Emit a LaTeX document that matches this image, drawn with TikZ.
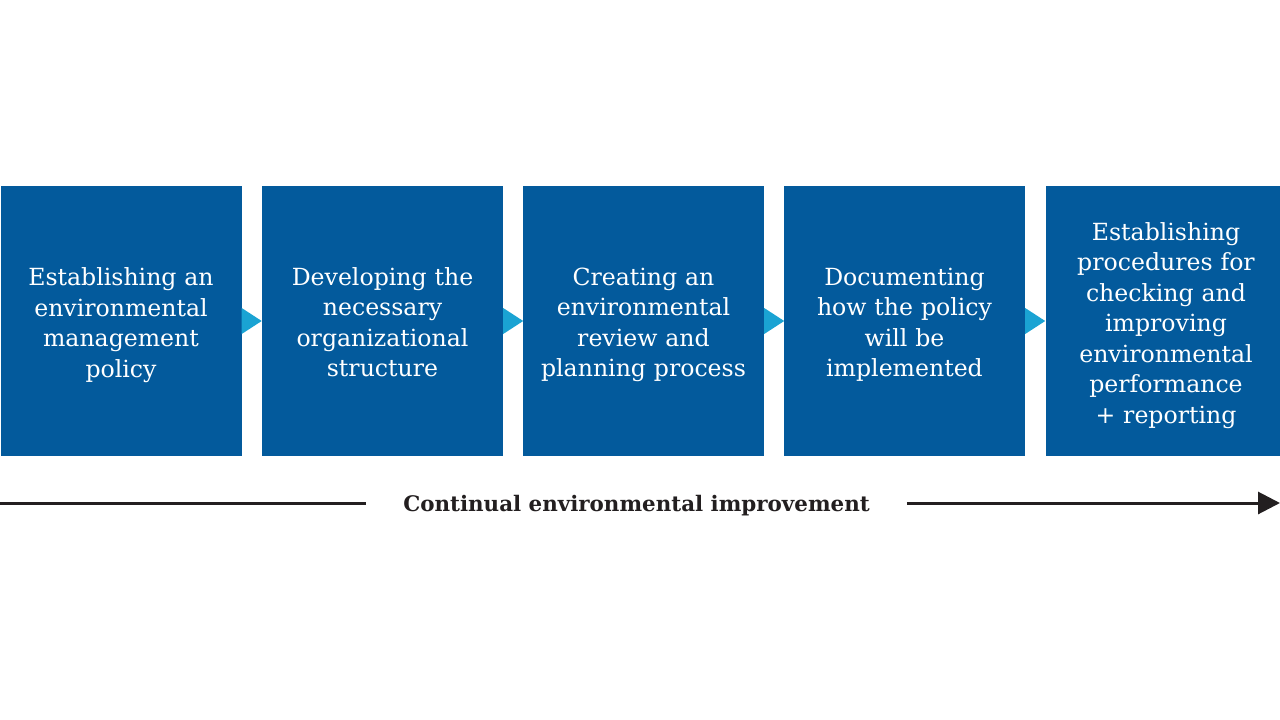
\documentclass[tikz,border=0pt]{standalone}
\usepackage{fontspec}
\setmainfont{DejaVu Serif}
\usetikzlibrary{arrows.meta}
\definecolor{boxblue}{HTML}{035A9C}
\definecolor{tricyan}{HTML}{1AA3D3}
\definecolor{arrowdark}{HTML}{231F20}
\tikzset{
  stepbox/.style={fill=boxblue, draw=none, minimum width=241pt, minimum height=270pt,
    inner sep=0pt},
  steptext/.style={inner sep=0pt, text=white, align=center, text width=236pt,
    font=\fontsize{23.6}{30.5}\selectfont},
  pointer/.style={fill=tricyan, draw=none},
  flowline/.style={draw=arrowdark, line width=3pt},
  flowlabel/.style={fill=white, inner xsep=37pt, text=arrowdark,
    font=\fontsize{21.4}{24}\selectfont\bfseries}
}
\begin{document}
\begin{tikzpicture}[x=1pt,y=-1pt]
\useasboundingbox (0,0) rectangle (1280,720);
\clip (0,0) rectangle (1280,720);
\node[stepbox] (b1) at (121,321) {};
\node[stepbox] (b2) at (382.5,321) {};
\node[stepbox] (b3) at (643.5,321) {};
\node[stepbox] (b4) at (904.5,321) {};
\node[stepbox] (b5) at (1166,321) {};
\node[steptext] (t1) at ([yshift=-4pt]b1.center) {Establishing an\\environmental\\management\\policy};
\node[steptext] (t2) at ([yshift=-1pt]b2.center) {Developing the\\necessary\\organizational\\structure};
\node[steptext] (t3) at ([yshift=-4pt]b3.center) {Creating an\\environmental\\review and\\planning process};
\node[steptext] (t4) at ([yshift=-4pt]b4.center) {Documenting\\how the policy\\will be\\implemented};
\node[steptext] (t5) at ([yshift=-4.5pt]b5.center) {Establishing\\procedures for\\checking and\\improving\\environmental\\performance\\+ reporting};
\foreach \n in {1,2,3,4}{
  \fill[pointer] (b\n.east) ++(0,-13) -- ++(20,13) -- ++(-20,13) -- cycle;
}
\coordinate (aL) at (0,503);
\coordinate (aR) at (1280,503);
\node[flowlabel] (lab) at (636.5,506) {Continual environmental improvement};
\draw[flowline] (aL) -- (lab.west |- aL);
\draw[flowline, -{Triangle[length=22pt,width=22pt]}] (lab.east |- aR) -- (aR);
\end{tikzpicture}
\end{document}
